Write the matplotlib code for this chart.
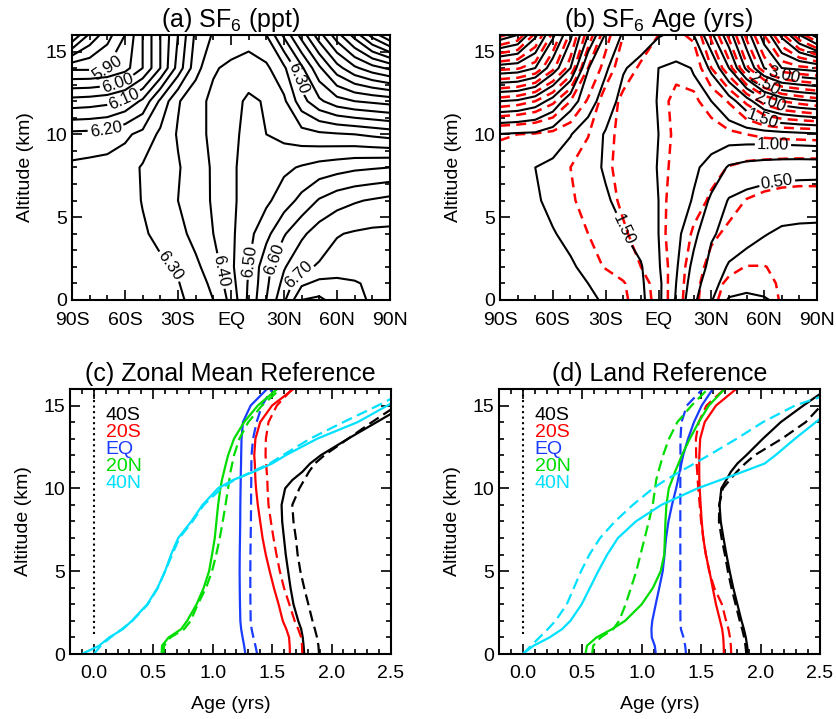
import numpy as np
import matplotlib.pyplot as plt
from matplotlib.ticker import MultipleLocator

plt.rcParams['font.family'] = ['Liberation Sans', 'DejaVu Sans']
plt.rcParams['mathtext.default'] = 'regular'

# ---- latitude / altitude grid for the zonal-mean cross sections ----
lat = np.arange(-90, 91, 10)
alt = np.array([0, 1, 2, 4, 6, 8, 10, 12, 14, 16])

# SF6 mixing ratio (ppt), rows = altitude, cols = latitude
sf6 = np.array([
    [6.28, 6.28, 6.285, 6.28, 6.285, 6.29, 6.29, 6.317, 6.35, 6.415, 6.51, 6.60, 6.69, 6.80, 6.81, 6.78, 6.76, 6.745, 6.73],
    [6.28, 6.28, 6.28, 6.28, 6.285, 6.29, 6.297, 6.33, 6.36, 6.43, 6.505, 6.59, 6.665, 6.74, 6.765, 6.765, 6.755, 6.74, 6.725],
    [6.275, 6.28, 6.28, 6.28, 6.285, 6.293, 6.305, 6.34, 6.375, 6.44, 6.50, 6.585, 6.645, 6.69, 6.705, 6.72, 6.725, 6.725, 6.72],
    [6.27, 6.275, 6.28, 6.283, 6.295, 6.31, 6.335, 6.365, 6.40, 6.44, 6.485, 6.535, 6.595, 6.64, 6.675, 6.697, 6.705, 6.71, 6.71],
    [6.27, 6.272, 6.275, 6.282, 6.302, 6.32, 6.35, 6.378, 6.405, 6.443, 6.465, 6.49, 6.525, 6.565, 6.605, 6.63, 6.645, 6.655, 6.665],
    [6.26, 6.265, 6.27, 6.277, 6.305, 6.317, 6.345, 6.38, 6.405, 6.443, 6.465, 6.475, 6.49, 6.505, 6.52, 6.53, 6.54, 6.545, 6.55],
    [6.213, 6.215, 6.22, 6.24, 6.265, 6.31, 6.355, 6.385, 6.41, 6.443, 6.458, 6.45, 6.435, 6.42, 6.41, 6.405, 6.40, 6.39, 6.38],
    [6.07, 6.075, 6.085, 6.11, 6.16, 6.26, 6.345, 6.385, 6.41, 6.43, 6.46, 6.445, 6.41, 6.32, 6.26, 6.22, 6.20, 6.19, 6.18],
    [5.89, 5.89, 5.90, 5.93, 6.00, 6.10, 6.22, 6.33, 6.395, 6.41, 6.42, 6.41, 6.36, 6.26, 6.16, 6.07, 6.01, 5.97, 5.94],
    [5.65, 5.76, 5.83, 5.90, 6.00, 6.10, 6.20, 6.31, 6.355, 6.37, 6.38, 6.35, 6.24, 6.13, 6.02, 5.92, 5.83, 5.73, 5.65],
])

# SF6 age (yrs) from the model run
age_model = np.array([
    [1.88, 1.88, 1.87, 1.85, 1.82, 1.78, 1.73, 1.65, 1.56, 1.30, 0.98, 0.55, 0.27, -0.03, -0.06, -0.02, 0.05, 0.10, 0.12],
    [1.88, 1.87, 1.86, 1.83, 1.80, 1.75, 1.69, 1.61, 1.54, 1.30, 1.00, 0.62, 0.33, 0.15, 0.08, 0.08, 0.10, 0.12, 0.14],
    [1.87, 1.86, 1.84, 1.81, 1.77, 1.71, 1.64, 1.58, 1.52, 1.27, 1.03, 0.68, 0.42, 0.22, 0.15, 0.14, 0.15, 0.16, 0.17],
    [1.86, 1.84, 1.80, 1.76, 1.71, 1.64, 1.57, 1.51, 1.40, 1.25, 1.07, 0.82, 0.53, 0.42, 0.33, 0.26, 0.22, 0.21, 0.21],
    [1.85, 1.82, 1.77, 1.71, 1.65, 1.58, 1.52, 1.45, 1.36, 1.25, 1.12, 0.98, 0.70, 0.48, 0.42, 0.38, 0.35, 0.34, 0.33],
    [1.84, 1.80, 1.75, 1.70, 1.63, 1.56, 1.48, 1.42, 1.34, 1.24, 1.14, 1.04, 0.92, 0.72, 0.66, 0.63, 0.61, 0.60, 0.60],
    [1.99, 1.97, 1.96, 1.88, 1.76, 1.62, 1.48, 1.42, 1.35, 1.25, 1.15, 1.12, 1.12, 1.14, 1.15, 1.16, 1.18, 1.20, 1.22],
    [2.75, 2.72, 2.62, 2.42, 2.10, 1.87, 1.62, 1.42, 1.33, 1.24, 1.18, 1.21, 1.25, 1.40, 1.65, 1.95, 2.12, 2.20, 2.25],
    [3.65, 3.62, 3.50, 3.12, 2.75, 2.01, 1.79, 1.52, 1.42, 1.25, 1.20, 1.26, 1.55, 2.00, 2.55, 3.00, 3.25, 3.30, 3.35],
    [4.65, 4.50, 4.05, 3.55, 3.05, 2.50, 1.97, 1.72, 1.63, 1.52, 1.45, 1.50, 1.95, 2.40, 2.90, 3.35, 3.80, 4.25, 4.60],
])

# SF6 age (yrs) from the reference run (dashed)
age_ref = np.array([
    [1.96, 1.96, 1.95, 1.93, 1.91, 1.88, 1.85, 1.80, 1.62, 1.42, 1.10, 0.84, 0.53, 0.45, 0.42, 0.45, 0.51, 0.55, 0.57],
    [1.95, 1.95, 1.94, 1.92, 1.89, 1.86, 1.82, 1.77, 1.59, 1.41, 1.11, 0.86, 0.56, 0.47, 0.44, 0.46, 0.52, 0.55, 0.57],
    [1.95, 1.94, 1.93, 1.90, 1.86, 1.80, 1.74, 1.64, 1.50, 1.39, 1.13, 0.88, 0.66, 0.54, 0.495, 0.495, 0.53, 0.56, 0.58],
    [1.94, 1.93, 1.90, 1.86, 1.81, 1.75, 1.66, 1.53, 1.42, 1.31, 1.16, 0.97, 0.80, 0.70, 0.66, 0.64, 0.63, 0.63, 0.63],
    [1.93, 1.91, 1.87, 1.82, 1.77, 1.70, 1.58, 1.46, 1.37, 1.29, 1.20, 1.08, 0.97, 0.84, 0.74, 0.69, 0.66, 0.65, 0.65],
    [1.91, 1.87, 1.83, 1.79, 1.75, 1.65, 1.53, 1.45, 1.37, 1.29, 1.22, 1.14, 1.06, 0.99, 0.94, 0.91, 0.89, 0.88, 0.88],
    [2.02, 2.00, 1.98, 1.94, 1.86, 1.76, 1.55, 1.45, 1.37, 1.30, 1.23, 1.18, 1.18, 1.21, 1.25, 1.29, 1.31, 1.32, 1.33],
    [2.90, 2.85, 2.75, 2.55, 2.25, 1.97, 1.62, 1.45, 1.37, 1.29, 1.22, 1.22, 1.32, 1.52, 1.80, 2.08, 2.25, 2.33, 2.40],
    [3.80, 3.77, 3.65, 3.30, 2.90, 2.25, 1.90, 1.60, 1.47, 1.38, 1.28, 1.32, 1.75, 2.15, 2.70, 3.12, 3.38, 3.45, 3.50],
    [4.80, 4.65, 4.20, 3.70, 3.20, 2.65, 2.10, 1.75, 1.62, 1.50, 1.45, 1.55, 2.05, 2.55, 3.05, 3.50, 3.95, 4.40, 4.75],
])

# ---- vertical age profiles (yrs) on a common altitude grid ----
z_prof = [0, 0.5, 1, 1.5, 2, 3, 4, 5, 6, 7, 8, 9, 10, 10.5, 11, 11.5, 12, 13, 14, 15, 16]
prof_names = ['40S', '20S', 'EQ', '20N', '40N']

# (c) zonal mean reference: solid = model, dashed = reference
zm_40s = [1.77, 1.765, 1.758, 1.745, 1.72, 1.68, 1.655, 1.635, 1.615, 1.60, 1.585, 1.58, 1.61, 1.67, 1.755, 1.82, 1.91, 2.14, 2.38, 2.62, 2.85]
zm_40s_ref = [1.895, 1.89, 1.878, 1.86, 1.84, 1.805, 1.77, 1.738, 1.715, 1.70, 1.68, 1.67, 1.73, 1.77, 1.81, 1.86, 1.94, 2.14, 2.34, 2.55, 2.75]
zm_20s = [1.65, 1.648, 1.643, 1.62, 1.59, 1.555, 1.515, 1.48, 1.447, 1.42, 1.40, 1.38, 1.365, 1.36, 1.357, 1.355, 1.35, 1.36, 1.40, 1.50, 1.68]
zm_20s_ref = [1.754, 1.752, 1.745, 1.72, 1.69, 1.645, 1.60, 1.565, 1.537, 1.512, 1.49, 1.47, 1.462, 1.46, 1.455, 1.45, 1.445, 1.448, 1.47, 1.54, 1.67]
zm_eq = [1.275, 1.265, 1.252, 1.24, 1.233, 1.23, 1.228, 1.227, 1.228, 1.23, 1.232, 1.233, 1.235, 1.236, 1.237, 1.239, 1.24, 1.243, 1.255, 1.32, 1.458]
zm_eq_ref = [1.374, 1.36, 1.343, 1.328, 1.32, 1.318, 1.317, 1.317, 1.318, 1.32, 1.322, 1.323, 1.324, 1.325, 1.325, 1.326, 1.327, 1.34, 1.37, 1.415, 1.50]
zm_20n = [0.571, 0.574, 0.63, 0.735, 0.785, 0.865, 0.925, 0.97, 0.995, 1.018, 1.032, 1.046, 1.065, 1.078, 1.095, 1.112, 1.13, 1.18, 1.265, 1.38, 1.543]
zm_20n_ref = [0.586, 0.592, 0.645, 0.76, 0.815, 0.875, 0.945, 0.995, 1.03, 1.06, 1.085, 1.108, 1.13, 1.14, 1.15, 1.165, 1.18, 1.225, 1.30, 1.415, 1.57]
zm_40n = [-0.10, 0.045, 0.13, 0.245, 0.32, 0.45, 0.537, 0.60, 0.65, 0.71, 0.82, 0.915, 1.045, 1.17, 1.345, 1.50, 1.615, 1.88, 2.22, 2.47, 2.70]
zm_40n_ref = [0.0, 0.06, 0.14, 0.235, 0.325, 0.455, 0.54, 0.60, 0.66, 0.72, 0.83, 0.925, 1.075, 1.18, 1.33, 1.48, 1.59, 1.82, 2.10, 2.39, 2.66]

# (d) land reference
ld_40s = [1.894, 1.887, 1.876, 1.86, 1.84, 1.805, 1.77, 1.74, 1.713, 1.688, 1.665, 1.655, 1.67, 1.711, 1.75, 1.805, 1.88, 2.02, 2.17, 2.36, 2.56]
ld_40s_ref = [1.88, 1.873, 1.862, 1.845, 1.825, 1.79, 1.755, 1.725, 1.70, 1.672, 1.65, 1.652, 1.683, 1.74, 1.80, 1.87, 1.95, 2.18, 2.38, 2.51, 2.65]
ld_20s = [1.691, 1.69, 1.686, 1.677, 1.66, 1.625, 1.597, 1.57, 1.54, 1.518, 1.505, 1.496, 1.488, 1.485, 1.484, 1.484, 1.485, 1.492, 1.53, 1.625, 1.795]
ld_20s_ref = [1.753, 1.75, 1.743, 1.73, 1.71, 1.675, 1.61, 1.568, 1.54, 1.518, 1.50, 1.488, 1.476, 1.471, 1.467, 1.462, 1.458, 1.456, 1.48, 1.545, 1.697]
ld_eq = [1.119, 1.11, 1.085, 1.082, 1.089, 1.118, 1.148, 1.177, 1.192, 1.205, 1.225, 1.255, 1.29, 1.305, 1.319, 1.334, 1.349, 1.39, 1.44, 1.505, 1.598]
ld_eq_ref = [1.373, 1.366, 1.352, 1.33, 1.326, 1.325, 1.325, 1.325, 1.325, 1.325, 1.325, 1.325, 1.325, 1.325, 1.325, 1.325, 1.326, 1.326, 1.335, 1.38, 1.513]
ld_20n = [0.527, 0.54, 0.62, 0.75, 0.86, 1.0, 1.095, 1.16, 1.19, 1.195, 1.20, 1.208, 1.228, 1.255, 1.28, 1.31, 1.338, 1.405, 1.48, 1.565, 1.697]
ld_20n_ref = [0.583, 0.592, 0.655, 0.76, 0.81, 0.865, 0.91, 0.955, 0.99, 1.025, 1.06, 1.093, 1.113, 1.122, 1.14, 1.16, 1.18, 1.23, 1.30, 1.42, 1.556]
ld_40n = [0.0, 0.09, 0.225, 0.33, 0.40, 0.495, 0.565, 0.635, 0.71, 0.80, 0.95, 1.165, 1.47, 1.66, 1.85, 2.035, 2.125, 2.29, 2.465, 2.64, 2.80]
ld_40n_ref = [0.0, 0.07, 0.14, 0.21, 0.275, 0.37, 0.43, 0.49, 0.56, 0.65, 0.775, 0.925, 1.095, 1.20, 1.32, 1.443, 1.565, 1.80, 2.02, 2.29, 2.70]

prof_colors = ['black', '#ff0000', '#1a3cff', '#00dd00', '#00e0ff']

sf6_levels = np.round(np.arange(5.60, 6.86, 0.05), 2)
age_levels = np.round(np.arange(-0.25, 5.01, 0.25), 2)

# contour label positions (lat, km), one entry per labelled level
sf6_label_pos = {
    5.9: [(-70, 13.9)], 6.0: [(-64, 13.0)], 6.1: [(-60, 12.0)],
    6.2: [(-71, 10.5)], 6.3: [(35, 13.3), (-35, 2.0)],
    6.4: [(-8, 1.7)], 6.5: [(11, 2.3)], 6.6: [(28, 2.3)], 6.7: [(39, 1.5)],
}
age_label_pos = {
    3.0: [(71, 13.4)], 2.5: [(58, 12.8)], 2.0: [(63, 11.9)],
    1.5: [(59, 10.9), (-25, 4.1)], 1.0: [(65, 9.4)], 0.5: [(67, 7.3)],
}

lat_ticks = [-90, -60, -30, 0, 30, 60, 90]
lat_labels = ['90S', '60S', '30S', 'EQ', '30N', '60N', '90N']

fig = plt.figure(figsize=(8.37, 7.19), dpi=100)
ax_a = fig.add_axes([0.0860, 0.5828, 0.3799, 0.3686])
ax_b = fig.add_axes([0.5974, 0.5828, 0.3787, 0.3686])
ax_c = fig.add_axes([0.0836, 0.0904, 0.3835, 0.3686])
ax_d = fig.add_axes([0.5962, 0.0904, 0.3835, 0.3686])


def frame(ax):
    for sp in ax.spines.values():
        sp.set_linewidth(1.5)
    ax.tick_params(which='both', direction='in', top=True, right=True,
                   width=1.2, labelsize=14)
    ax.tick_params(which='major', length=7)
    ax.tick_params(which='minor', length=3.5)
    ax.set_ylim(0, 16)
    ax.yaxis.set_major_locator(MultipleLocator(5))
    ax.yaxis.set_minor_locator(MultipleLocator(1))
    ax.set_ylabel('Altitude (km)', fontsize=14, labelpad=8)


def labelled_contours(ax, field, levels, label_pos, **kw):
    # plain levels in one set, each labelled level in its own set
    plain = [v for v in levels if not any(np.isclose(v, k) for k in label_pos)]
    ax.contour(lat, alt, field, levels=plain, **kw)
    for v, pos in label_pos.items():
        cs = ax.contour(lat, alt, field, levels=[v], **kw)
        ax.clabel(cs, fmt='%.2f', fontsize=12, inline=True,
                  inline_spacing=2, manual=pos)


# (a) SF6 mixing ratio
labelled_contours(ax_a, sf6, sf6_levels, sf6_label_pos, colors='black',
                  linewidths=1.5, linestyles='solid')
ax_a.set_title('(a) SF$_6$ (ppt)', fontsize=18, pad=6)

# (b) SF6 age: model (solid) and reference (dashed)
ax_b.contour(lat, alt, age_ref, levels=age_levels, colors='#ff0000',
             linewidths=1.8, linestyles=[(0, (4, 2.5))])
labelled_contours(ax_b, age_model, age_levels, age_label_pos, colors='black',
                  linewidths=1.5, linestyles='solid')
ax_b.set_title('(b) SF$_6$ Age (yrs)', fontsize=18, pad=6)

for ax in (ax_a, ax_b):
    frame(ax)
    ax.set_xlim(-90, 90)
    ax.set_xticks(lat_ticks)
    ax.set_xticklabels(lat_labels)
    ax.xaxis.set_minor_locator(MultipleLocator(10))
    ax.tick_params(axis='x', pad=9)

# (c), (d) age profiles
zm_solid = [zm_40s, zm_20s, zm_eq, zm_20n, zm_40n]
zm_dash = [zm_40s_ref, zm_20s_ref, zm_eq_ref, zm_20n_ref, zm_40n_ref]
ld_solid = [ld_40s, ld_20s, ld_eq, ld_20n, ld_40n]
ld_dash = [ld_40s_ref, ld_20s_ref, ld_eq_ref, ld_20n_ref, ld_40n_ref]

for ax, solid, dash, title in ((ax_c, zm_solid, zm_dash, '(c) Zonal Mean Reference'),
                               (ax_d, ld_solid, ld_dash, '(d) Land Reference')):
    ax.plot([0, 0], [1.2, 16], color='black', linestyle=':', linewidth=1.5)
    for k in range(len(prof_names)):
        ax.plot(solid[k], z_prof, color=prof_colors[k], linewidth=1.6)
        ax.plot(dash[k], z_prof, color=prof_colors[k], linewidth=1.6,
                linestyle=(0, (5, 2.5)))
        ax.text(0.10, 14.4 - 1.03 * k, prof_names[k], color=prof_colors[k],
                fontsize=14, va='center', ha='left')
    frame(ax)
    ax.set_xlim(-0.2, 2.5)
    ax.xaxis.set_major_locator(MultipleLocator(0.5))
    ax.xaxis.set_minor_locator(MultipleLocator(0.1))
    ax.xaxis.set_major_formatter(lambda v, p: '%.1f' % v)
    ax.tick_params(axis='x', pad=8)
    ax.set_xlabel('Age (yrs)', fontsize=14, labelpad=10)
    ax.set_title(title, fontsize=18, pad=6)

fig.savefig('out.png', dpi=100)
